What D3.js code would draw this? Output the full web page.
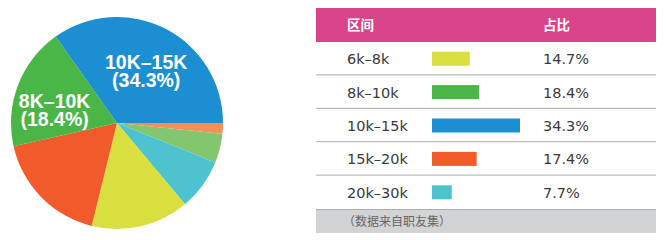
<!DOCTYPE html>
<html><head><meta charset="utf-8">
<script src="https://cdn.jsdelivr.net/npm/d3@7"></script>
<style>
html,body{margin:0;padding:0;background:#fff;}
svg{display:block;}
</style></head>
<body>
<svg id="c" width="666" height="240"></svg>
<script>
// table data
const categories = ["6k–8k", "8k–10k", "10k–15k", "15k–20k", "20k–30k"];
const values = [14.7, 18.4, 34.3, 17.4, 7.7];
const colors = ["#D8DF3E", "#4BB648", "#1B8FD2", "#F15A2B", "#4EC3CF"];
const headers = ["区间", "占比"];
const footnote = "（数据来自职友集）";

// pie slices, clockwise from 3 o'clock
const pieKeys = ["a", "b", "20k–30k", "6k–8k", "15k–20k", "8k–10k", "10k–15k"];
const pieValues = [1.6, 4.4, 7.7, 14.7, 17.4, 18.4, 34.3];
const pieColors = ["#F39058", "#84C66F", "#4EC3CF", "#D8DF3E", "#F15A2B", "#4BB648", "#1B8FD2"];
const pieLabelKeys = ["10k–15k", "8k–10k"];
const pieLabelText = [["10K–15K", "(34.3%)"], ["8K–10K", "(18.4%)"]];

const svg = d3.select("#c");

// ---- pie ----
const cx = 117, cy = 123, R = 106;
const pie = d3.pie().sort(null).value(d => d.v)
  .startAngle(Math.PI / 2).endAngle(Math.PI / 2 + 2 * Math.PI);
const slices = pie(pieKeys.map((k, i) => ({k, v: pieValues[i], c: pieColors[i]})));
const arc = d3.arc().innerRadius(0).outerRadius(R);
const labelArc = d3.arc().innerRadius(R * 0.6).outerRadius(R * 0.6);
const g = svg.append("g").attr("transform", `translate(${cx},${cy})`);
g.selectAll("path").data(slices).join("path")
  .attr("d", arc).attr("fill", d => d.data.c);

slices.filter(s => pieLabelKeys.includes(s.data.k)).forEach(s => {
  const idx = pieLabelKeys.indexOf(s.data.k);
  const [x, y] = labelArc.centroid(s);
  const t = g.append("text").attr("text-anchor", "middle")
    .attr("font-family", "Liberation Sans, Arial, sans-serif")
    .attr("font-weight", "bold").attr("font-size", 19.5).attr("fill", "#fff");
  const off = idx === 0 ? [2, 20] : [8, 26];
  pieLabelText[idx].forEach((line, j) => {
    t.append("tspan").attr("x", x - (idx === 1 ? 3 : 0)).attr("y", y + off[j]).text(line);
  });
});

// ---- table ----
const tx0 = 316, tx1 = 656;
const headTop = 8, rowsTop = 42, rowsBottom = 209, footBottom = 233;
const rowY = d3.scaleBand().domain(categories).range([rowsTop, rowsBottom]);
const barX = d3.scaleLinear().domain([0, 34.3]).range([0, 88]);
const colLabel = 347, colBar = 432, colPct = 543;

svg.append("rect").attr("x", tx0).attr("y", headTop).attr("width", tx1 - tx0)
  .attr("height", rowsTop - headTop).attr("fill", "#D9448A");
svg.selectAll("text.h").data(headers).join("text").attr("class", "h")
  .attr("x", (d, i) => i === 0 ? colLabel : colPct).attr("y", (headTop + rowsTop) / 2 + 5)
  .attr("font-family", "Noto Sans CJK SC, sans-serif").attr("font-weight", "bold")
  .attr("font-size", 13.5).attr("fill", "#fff").text(d => d);

const rows = svg.selectAll("g.row").data(categories).join("g").attr("class", "row")
  .attr("transform", d => `translate(0,${rowY(d)})`);
const bh = rowY.bandwidth();
rows.append("text").attr("x", colLabel).attr("y", bh / 2 + 5.5)
  .attr("font-family", "DejaVu Sans, sans-serif").attr("font-size", 14.5)
  .attr("fill", "#3a3a3a").text(d => d);
rows.append("rect").attr("x", colBar).attr("y", bh / 2 - 7)
  .attr("width", (d, i) => barX(values[i])).attr("height", 14)
  .attr("fill", (d, i) => colors[i]);
rows.append("text").attr("x", colPct).attr("y", bh / 2 + 5.5)
  .attr("font-family", "DejaVu Sans, sans-serif").attr("font-size", 14.5)
  .attr("fill", "#3a3a3a").text((d, i) => values[i] + "%");
rows.filter((d, i) => i < categories.length - 1).append("line")
  .attr("x1", tx0).attr("x2", tx1).attr("y1", bh - 0.5).attr("y2", bh - 0.5)
  .attr("stroke", "#bdbdbd").attr("stroke-width", 1.2);

svg.append("rect").attr("x", tx0).attr("y", rowsBottom).attr("width", tx1 - tx0)
  .attr("height", footBottom - rowsBottom).attr("fill", "#D2D3D5");
svg.append("line").attr("x1", tx0).attr("x2", tx1).attr("y1", rowsBottom + 0.5).attr("y2", rowsBottom + 0.5)
  .attr("stroke", "#AEAFB1").attr("stroke-width", 1.2);
svg.append("text").attr("x", colLabel - 4).attr("y", (rowsBottom + footBottom) / 2 + 4.5)
  .attr("font-family", "Noto Sans CJK SC, sans-serif").attr("font-size", 12)
  .attr("fill", "#666").text(footnote);
</script>
</body></html>
